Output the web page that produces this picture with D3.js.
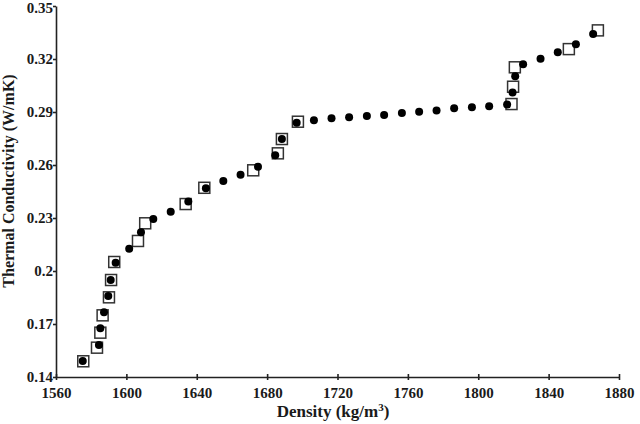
<!DOCTYPE html>
<html>
<head>
<meta charset="utf-8">
<script src="https://cdn.jsdelivr.net/npm/d3@7"></script>
<style>
  body { margin: 0; background: #fff; }
  text { font-family: "Liberation Serif", "Times New Roman", serif; font-weight: bold; fill: #1a1a1a; }
</style>
</head>
<body>
<svg id="chart" width="640" height="424"></svg>
<script>
// filled circles
var circleDensity = [1575.2, 1584.4, 1585.2, 1587.3, 1589.7, 1591.1, 1593.9, 1601.6, 1608.3, 1615.3,
  1625.2, 1635.2, 1645.2, 1655.1, 1664.9, 1674.8, 1684.6, 1688.4, 1696.8, 1706.6,
  1716.6, 1726.6, 1736.7, 1746.5, 1756.6, 1766.4, 1776.3, 1786.3, 1796.4, 1806.2,
  1816.4, 1819.5, 1821.0, 1825.5, 1835.4, 1845.2, 1855.5, 1865.3];
var circleConductivity = [0.1491, 0.1581, 0.1676, 0.1766, 0.1858, 0.1949, 0.2047, 0.2126, 0.2219, 0.2294,
  0.2336, 0.2394, 0.2468, 0.2509, 0.2545, 0.2590, 0.2655, 0.2747, 0.2839, 0.2853,
  0.2864, 0.2870, 0.2877, 0.2883, 0.2894, 0.2902, 0.2909, 0.2921, 0.2927, 0.2932,
  0.2943, 0.3011, 0.3102, 0.3170, 0.3202, 0.3238, 0.3283, 0.3341];

// open squares
var squareDensity = [1575.5, 1583.3, 1585.2, 1586.5, 1590.1, 1591.3, 1593.1, 1606.6, 1610.7, 1633.7,
  1644.3, 1672.1, 1686.1, 1688.4, 1697.5, 1818.9, 1819.8, 1820.8, 1851.5, 1868.0];
var squareConductivity = [0.1489, 0.1566, 0.1651, 0.1749, 0.1851, 0.1949, 0.2051, 0.2170, 0.2270, 0.2379,
  0.2471, 0.2570, 0.2666, 0.2747, 0.2845, 0.2945, 0.3043, 0.3153, 0.3256, 0.3362];

var xTicks = [1560, 1600, 1640, 1680, 1720, 1760, 1800, 1840, 1880];
var yTicks = [0.14, 0.17, 0.2, 0.23, 0.26, 0.29, 0.32, 0.35];
var yTickLabels = ["0.14", "0.17", "0.2", "0.23", "0.26", "0.29", "0.32", "0.35"];

var svg = d3.select("#chart");

var x = d3.scaleLinear().domain([1560, 1880]).range([56, 619]);
var y = d3.scaleLinear().domain([0.14, 0.35]).range([377, 6]);

// x axis, ticks cross the line
var xAxis = svg.append("g")
  .attr("transform", "translate(0," + y(0.14) + ")")
  .call(d3.axisBottom(x).tickValues(xTicks).tickSize(3).tickSizeOuter(0).tickFormat(d3.format("d")));
xAxis.selectAll(".tick line").attr("y1", -3).attr("y2", 3);
xAxis.selectAll(".tick text").attr("y", 10).style("font-size", "15px");

var yAxis = svg.append("g")
  .attr("transform", "translate(" + x(1560) + ",0)")
  .call(d3.axisLeft(y).tickValues(yTicks).tickSize(3).tickSizeOuter(0)
    .tickFormat(function(d, i) { return yTickLabels[i]; }));
yAxis.selectAll(".tick text")
  .attr("x", -3)
  .attr("dy", function(d) { return d === 0.35 ? "0.42em" : "0.32em"; })
  .style("font-size", "15px");

svg.selectAll(".domain, .tick line").attr("stroke", "#222").attr("stroke-width", 1.6);

// squares under, circles on top
svg.selectAll("rect.sq")
  .data(squareDensity)
  .enter().append("rect")
  .attr("class", "sq")
  .attr("x", function(d) { return x(d) - 5.5; })
  .attr("y", function(d, i) { return y(squareConductivity[i]) - 5.5; })
  .attr("width", 11)
  .attr("height", 11)
  .attr("fill", "#fff")
  .attr("stroke", "#333")
  .attr("stroke-width", 1.5);

svg.selectAll("circle.pt")
  .data(circleDensity)
  .enter().append("circle")
  .attr("class", "pt")
  .attr("cx", function(d) { return x(d); })
  .attr("cy", function(d, i) { return y(circleConductivity[i]); })
  .attr("r", 4)
  .attr("fill", "#000");

// axis titles
svg.append("text")
  .attr("transform", "translate(14," + 181 + ") rotate(-90)")
  .attr("text-anchor", "middle")
  .style("font-size", "16px")
  .text("Thermal Conductivity (W/mK)");

var xt = svg.append("text")
  .attr("x", 333)
  .attr("y", 417)
  .attr("text-anchor", "middle")
  .style("font-size", "17px");
xt.append("tspan").text("Density (kg/m");
xt.append("tspan").attr("dy", -6).style("font-size", "11px").text("3");
xt.append("tspan").attr("dy", 6).text(")");
</script>
</body>
</html>
